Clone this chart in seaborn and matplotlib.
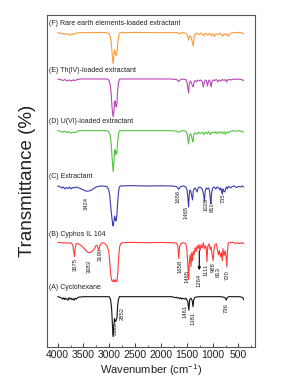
import matplotlib
matplotlib.use("Agg")
import matplotlib.pyplot as plt
import seaborn as sns
import pandas as pd
import numpy as np
from matplotlib.ticker import MultipleLocator

# ---------------- data ----------------
wn_A = [4000, 3960, 3920, 3900, 3880, 3860, 3840, 3820, 3800, 3780, 3760, 3740, 3720, 3700,
        3680, 3660, 3640, 3600, 3500, 3300, 3100, 3000, 2975, 2955, 2940, 2925, 2912, 2900,
        2885, 2870, 2852, 2840, 2825, 2805, 2700, 2400, 2100, 1800, 1750, 1720, 1700, 1680,
        1660, 1640, 1620, 1600, 1580, 1560, 1540, 1520, 1500, 1480, 1461, 1445, 1420, 1395,
        1381, 1365, 1340, 1250, 1100, 950, 850, 780, 755, 736, 720, 690, 600, 500, 430, 415,
        405, 400]
t_A = [0, -0.5, -1.5, -2.5, -1, -3, -1.5, -2.5, -3.5, -1, -2.5, -1.5, -3, -2,
       -3.5, -1.5, -2.5, -0.5, 0, 0, 0, 0, -3, -12, -28, -40, -30, -22,
       -25, -24, -21, -10, -3, 0, 0, 0, 0, 0, -0.5, -1, -0.5, -1.5,
       -1, -2, -1, -2.5, -1.5, -2, -2.5, -1.5, -3, -5, -13.5, -3, -1.5, -4,
       -10, -3, -0.5, 0, 0, 0, 0, -0.5, -1.5, -3.5, -1, 0, 0, 0, -0.5, -1,
       -2.5, -3]

wn_B = [4000, 3950, 3900, 3850, 3800, 3750, 3710, 3690, 3675, 3660, 3640, 3600, 3550, 3500,
        3450, 3400, 3350, 3300, 3260, 3235, 3207, 3180, 3150, 3120, 3080, 3040, 3010, 2990,
        2970, 2950, 2930, 2915, 2900, 2880, 2865, 2850, 2835, 2820, 2800, 2780, 2750, 2600,
        2300, 2000, 1800, 1700, 1675, 1656, 1640, 1610, 1560, 1520, 1500, 1480, 1465, 1450,
        1435, 1420, 1405, 1390, 1375, 1360, 1340, 1320, 1300, 1285, 1264, 1245, 1225, 1200,
        1180, 1160, 1140, 1125, 1111, 1095, 1070, 1050, 1030, 1010, 990, 975, 955, 930, 910,
        890, 870, 850, 830, 813, 800, 780, 760, 740, 725, 715, 700, 680, 640, 600, 560, 520,
        480, 440, 400]
t_B = [0, 0.3, -0.5, 0, -0.5, 0, -2, -8, -14, -6, -1, -1, -2.5, -5,
       -8, -10, -9.5, -7, -3, -2.5, -7.5, -3, -0.5, 0, -1, -4, -9, -20,
       -33, -38, -39, -37, -39, -37, -39, -38, -30, -15, -4, -1, 0, 0.3,
       0, 0.2, 0, -0.5, -3, -16, -4, -0.5, 0, -1, -6, -22, -37, -18,
       -12, -24, -10, -18, -9, -12, -5, -9, -3, -6, -2, -8, -2, -5,
       0, -6, -3, -5, -19, -4, -1, -7, -4, -12, -18, -7, -2, -1, -6,
       -12, -8, -14, -10, -18, -6, -13, -8, -14, -24, -10, -1, 0.5, 0, 0.5, -1, 0,
       -1, 0, -1]

wn_C = [4000, 3960, 3920, 3890, 3860, 3830, 3800, 3770, 3740, 3710, 3680, 3650, 3620, 3580,
        3540, 3500, 3460, 3420, 3380, 3340, 3300, 3260, 3220, 3150, 3050, 3015, 2990, 2970,
        2950, 2935, 2925, 2910, 2897, 2885, 2870, 2855, 2840, 2825, 2810, 2790, 2600, 2300,
        2000, 1800, 1700, 1675, 1660, 1645, 1620, 1560, 1520, 1495, 1480, 1465, 1452, 1440,
        1420, 1405, 1390, 1375, 1360, 1340, 1320, 1300, 1280, 1250, 1220, 1195, 1175, 1160,
        1145, 1125, 1100, 1080, 1060, 1045, 1033, 1020, 1000, 970, 940, 910, 880, 860, 840,
        825, 812, 800, 785, 765, 745, 730, 715, 700, 680, 650, 620, 580, 540, 500, 460, 430,
        400]
t_C = [0, -0.5, -2, -1, -3, -1.5, -2.5, -1, -3, -1.5, -2, -1, -1.5, -2,
       -3, -4, -5, -5.2, -4.8, -4, -2.5, -1.2, -0.5, 0, -0.5, -3, -10, -22,
       -32, -38, -40, -35, -30, -33, -35, -30, -18, -8, -2, 0, 0.3, 0,
       0.2, 0, -0.5, -2, -3.5, -2, -0.5, 0, -1, -4, -12, -21, -8, -4,
       -6, -10, -14, -5, -3, -2, -4, -6, -2, -1, -2, -4, -9, -15,
       -6, -2, -3, -2, -5, -14, -18, -7, -2, -1, -3, -1, -2, -4, -2,
       -6, -8, -3, -5, -6, -2, -1, -3, -1, -0.5, -2, -0.5, 0, -1.5, -0.5, -1, 0,
       -1]

wn_D = [4000, 3950, 3900, 3860, 3820, 3780, 3740, 3700, 3660, 3620, 3550, 3400, 3200, 3050,
        3010, 2985, 2965, 2945, 2925, 2910, 2900, 2890, 2880, 2868, 2855, 2840, 2820, 2800,
        2600, 2300, 2000, 1800, 1700, 1660, 1630, 1600, 1520, 1495, 1480, 1465, 1450, 1430,
        1410, 1395, 1381, 1365, 1340, 1300, 1270, 1240, 1200, 1170, 1140, 1110, 1080, 1050,
        1020, 990, 960, 930, 900, 870, 840, 810, 780, 750, 720, 690, 650, 600, 550, 500, 450,
        400]
t_D = [0, -0.5, -1.5, -0.5, -2, -1, -2.5, -1.5, -2, -0.5, 0, 0, 0, 0,
       -1, -4, -12, -28, -41, -30, -22, -19, -24, -21, -23, -12, -3, 0,
       0, 0, 0, 0, -0.5, -1.5, -1, 0, -0.5, -3, -9, -13.3, -5, -3,
       -5, -9, -11, -4, -2, -3.5, -1.5, -3, -1.5, -4, -1.5, -3, -1, -4,
       -1.5, -2.5, -1, -3, -1, -2.5, -1, -3, -1, -3.5, -1, -2, -0.5, 0, -0.5, 0, -0.5,
       -1.5]

wn_E = [4000, 3950, 3900, 3860, 3820, 3780, 3740, 3700, 3660, 3620, 3550, 3400, 3200, 3050,
        3010, 2985, 2965, 2945, 2925, 2910, 2900, 2888, 2875, 2862, 2852, 2840, 2820, 2800,
        2600, 2300, 2000, 1800, 1700, 1660, 1630, 1600, 1520, 1495, 1480, 1465, 1450, 1430,
        1410, 1395, 1377, 1360, 1340, 1310, 1290, 1260, 1230, 1200, 1180, 1160, 1140, 1120,
        1100, 1080, 1060, 1045, 1030, 1015, 990, 960, 930, 900, 870, 840, 810, 780, 750, 730,
        710, 680, 650, 600, 550, 500, 450, 400]
t_E = [0, -0.5, -1.5, -0.5, -2, -1, -2, -1, -1.5, -0.5, 0, 0, 0, 0,
       -1, -5, -14, -30, -38, -32, -24, -22, -27, -28, -24, -12, -3, 0,
       0, 0, 0, 0, -0.5, -2.5, -1, 0, -0.5, -4, -9, -14, -4, -2,
       -4, -6.5, -8, -3, -1.5, -3, -1, -2, -1, -3, -8, -3, -1, -2,
       -7, -2, -1, -4, -8, -3, -1, -1.5, -0.5, -3, -1, -2, -0.5, -1.5, -0.5, -3,
       -1, -0.5, -1, 0, -0.5, 0, -0.5, -1.5]

wn_F = [4000, 3950, 3900, 3870, 3850, 3800, 3760, 3720, 3700, 3650, 3600, 3400, 3200, 3050,
        3010, 2980, 2960, 2940, 2925, 2910, 2897, 2880, 2865, 2852, 2835, 2815, 2790, 2500,
        2000, 1800, 1700, 1640, 1600, 1520, 1495, 1480, 1465, 1445, 1420, 1395, 1377, 1360,
        1340, 1300, 1260, 1230, 1170, 1140, 1100, 1060, 1030, 1000, 970, 940, 900, 860, 810,
        780, 740, 720, 700, 650, 600, 500, 450, 400]
t_F = [0, -0.5, -1, -2, -1, -1.5, -2.5, -1, -2, -0.5, 0, 0, 0.3, 0,
       -1, -4, -11, -25, -31, -22, -17, -21, -23, -20, -10, -2, 0, 0.3,
       0, 0, 0.2, -1, 0, -0.5, -2, -5, -7.5, -3, -4, -9, -13.5, -5,
       -1, -0.5, -2, -0.5, -3, -0.5, -2.5, -0.5, -3, -1, -4, -1, -2, -0.5, -3.5,
       -1, -2.5, -1, -3.5, -0.5, 0, 0.3, 0, -1]

series_names = ["A", "B", "C", "D", "E", "F"]
series_labels = ["(A) Cyclohexane", "(B) Cyphos IL 104", "(C) Extractant",
                 "(D) U(VI)-loaded extractant", "(E) Th(IV)-loaded extractant",
                 "(F) Rare earth elements-loaded extractant"]
series_wn = [wn_A, wn_B, wn_C, wn_D, wn_E, wn_F]
series_t = [t_A, t_B, t_C, t_D, t_E, t_F]

# peak annotations (text, wavenumber position, height)
peaks_C_txt = ["3424", "1656", "1465", "1028", "811", "735"]
peaks_C_x = [3450, 1665, 1510, 1120, 1012, 795]
peaks_C_y = [143.5, 151, 135, 142.5, 140, 149]

peaks_B_txt = ["3675", "3383", "3190", "1658", "1465", "1264", "1111", "988", "813", "720"]
peaks_B_x = [3665, 3381, 3170, 1627, 1495, 1259, 1120, 983, 892, 723]
peaks_B_y = [82.5, 80, 93, 81, 71, 67, 77, 80, 75, 72]

peaks_A_txt = ["2925", "2852", "1461", "1381", "736"]
peaks_A_x = [2884, 2743, 1544, 1389, 737]
peaks_A_y = [18.5, 33.5, 35.5, 28.5, 38.5]

# ---------------- style / layout ----------------
colors = ["#111111", "#FF3B3B", "#3A3AAE", "#52C43E", "#B845B8", "#FF9A3C"]
offsets = [50.3, 104.3, 161, 216.3, 268, 314.3]
label_y = [59, 112, 170, 225.5, 276, 323]

sns.set_style("white")
plt.rcParams["font.family"] = ["Liberation Sans", "DejaVu Sans"]
plt.rcParams["mathtext.default"] = "regular"

fig = plt.figure(figsize=(2.93, 3.84), dpi=100)
ax = fig.add_axes([0.1614, 0.0964, 0.709, 0.8646])

for wn, t, c, off, lab, ly in zip(series_wn, series_t, colors, offsets, series_labels, label_y):
    assert len(wn) == len(t), lab
    df = pd.DataFrame({"wn": wn, "t": np.asarray(t, dtype=float) + off})
    sns.lineplot(data=df, x="wn", y="t", color=c, lw=0.8, estimator=None, sort=False, ax=ax)
    ax.text(4165, ly, lab, fontsize=5, ha="left", va="center", color="#222222")

for txts, xs, ys in [(peaks_C_txt, peaks_C_x, peaks_C_y),
                     (peaks_B_txt, peaks_B_x, peaks_B_y),
                     (peaks_A_txt, peaks_A_x, peaks_A_y)]:
    for s, x, y in zip(txts, xs, ys):
        ax.text(x, y, s, rotation=90, fontsize=4.2, ha="center", va="center", color="#222222")

# arrow for the 1264 band
ax.annotate("", xy=(1259, 74), xytext=(1259, 99),
            arrowprops=dict(arrowstyle="-|>", color="black", lw=0.8, mutation_scale=4))

ax.set_xlim(4200, 180)
ax.set_ylim(0, 332)
ax.set_yticks([])
ax.set_xticks(list(range(500, 4001, 500)))
ax.xaxis.set_minor_locator(MultipleLocator(250))
ax.tick_params(axis="x", which="major", direction="in", length=3, width=0.6,
               pad=2.5, labelsize=7.5, bottom=True, colors="#222222")
ax.tick_params(axis="x", which="minor", direction="in", length=1.5, width=0.5, bottom=True)
for sp in ax.spines.values():
    sp.set_color("#555555")
    sp.set_linewidth(0.8)

ax.set_xlabel("Wavenumber (cm$^{-1}$)", fontsize=8, labelpad=1.5, color="#222222")
ax.set_ylabel("Transmittance (%)", fontsize=13.5, labelpad=8, color="#222222")

fig.savefig("out.png", dpi=100)
